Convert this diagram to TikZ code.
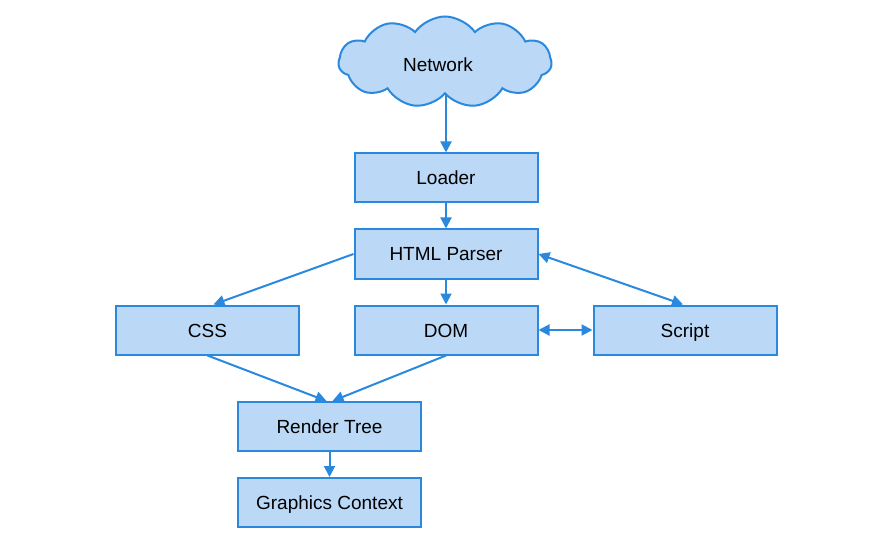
\documentclass[tikz,border=0pt]{standalone}
\usepackage{fontspec}
\setmainfont{Liberation Sans}
\usetikzlibrary{shapes.symbols,arrows.meta}
\definecolor{boxfill}{RGB}{187,217,247}
\definecolor{boxline}{RGB}{42,137,222}
\begin{document}
\begin{tikzpicture}[x=1pt,y=-1pt,
  txt/.style={font=\fontsize{19}{23}\selectfont,text height=14pt,text depth=0pt},
  box/.style={draw=boxline,fill=boxfill,line width=2pt,minimum width=183pt,minimum height=49pt,inner sep=0pt,txt},
  conn/.style={draw=boxline,line width=2pt,-{Triangle[length=11pt,width=11pt]}},
  bconn/.style={draw=boxline,line width=2pt,{Triangle[length=11pt,width=11pt]}-{Triangle[length=11pt,width=11pt]}}]
\useasboundingbox (0,0) rectangle (872,545);
\node[cloud,cloud puffs=11,cloud puff arc=110,cloud ignores aspect,draw=boxline,fill=boxfill,line width=2pt,minimum width=213pt,minimum height=91pt,inner sep=0pt,txt] (net) at (445,62) {\raisebox{-3pt}{Network}\rule{14pt}{0pt}};
\node[box] (loader) at (446,178) {Loader};
\node[box] (parser) at (446,254) {HTML Parser};
\node[box] (css) at (207.5,330) {CSS};
\node[box] (dom) at (446,330) {DOM};
\node[box] (script) at (685,330) {Script};
\node[box] (render) at (329.5,426.5) {Render Tree};
\node[box] (gc) at (329.5,502.5) {Graphics Context};
\draw[conn] (loader.north |- net.south) -- (loader.north);
\draw[conn] (loader) -- (parser);
\draw[conn] (parser.west) -- ([xshift=6pt]css.north);
\draw[conn] (parser) -- (dom);
\draw[bconn] (parser.east) -- ([xshift=-2pt]script.north);
\draw[bconn] (dom) -- (script);
\draw[conn] (css.south) -- ([xshift=-3pt]render.north);
\draw[conn] (dom.south) -- ([xshift=3pt]render.north);
\draw[conn] (render) -- (gc);
\end{tikzpicture}
\end{document}
